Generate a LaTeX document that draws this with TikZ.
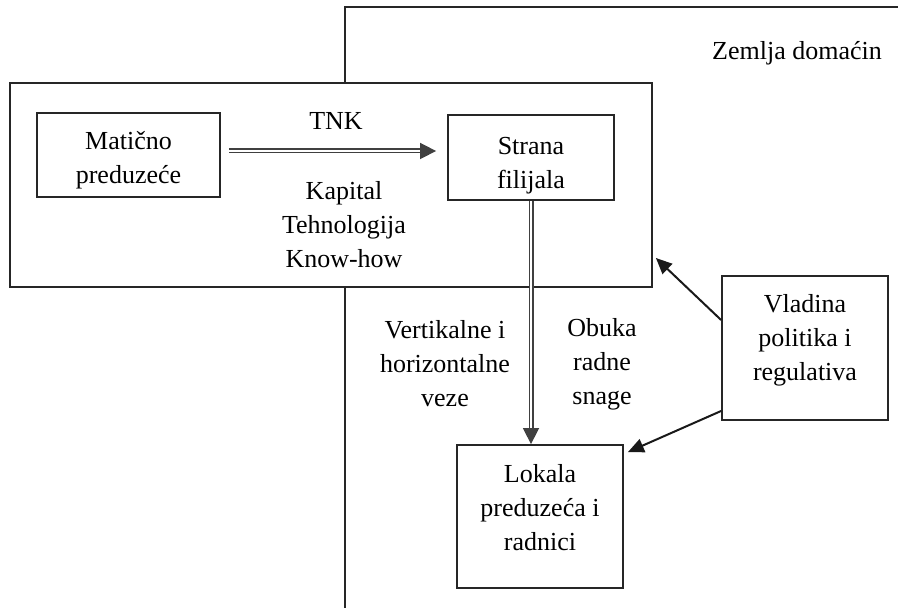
\documentclass[tikz,border=0pt]{standalone}
\usepackage{fontspec}
\setmainfont{Liberation Serif}
\usetikzlibrary{arrows.meta}
\tikzset{
  txt/.style={font=\fontsize{26}{34}\selectfont, align=center, inner sep=0pt},
  box/.style={draw=black!85, line width=1.8pt, rectangle, inner sep=0pt, fill=white},
  frame/.style={draw=black!85, line width=1.8pt},
  dblarrow/.style={draw=black!75, line width=1.6pt, double=white, double distance=1.8pt, -{Triangle[length=16pt,width=16pt]}},
  sarrow/.style={draw=black!90, line width=2pt, -{Triangle[length=16pt,width=14pt]}}
}
\begin{document}
\begin{tikzpicture}[x=1pt,y=1pt]
\useasboundingbox (0,0) rectangle (898,608);
% host country frame
\coordinate (hb) at (345,0);
\coordinate (htl) at (345,601);
\coordinate (htr) at (898,601);
\draw[frame] (hb) -- (htl) -- (htr);
\node[txt] (zemlja) at (797,555) {Zemlja domaćin};
% TNK box
\node[box, minimum width=642pt, minimum height=204pt] (tnkbox) at (331,423) {};
\node[box, minimum width=183pt, minimum height=84pt] (mat) at (128.5,453) {};
\node[txt] (mattxt) at (128.5,448) {Matično\\preduzeće};
\node[box, minimum width=166pt, minimum height=85pt] (str) at (531,450.5) {};
\node[txt] (strtxt) at (531,442.5) {Strana\\filijala};
\node[txt] (tnk) at (336,487) {TNK};
\node[txt] (kap) at (344,383) {Kapital\\Tehnologija\\Know-how};
% local firms
\node[box, minimum width=166pt, minimum height=143pt] (lok) at (540,91.5) {};
\node[txt] (loktxt) at (540,100) {Lokala\\preduzeća i\\radnici};
% government
\node[box, minimum width=166pt, minimum height=144pt] (vla) at (805,260) {};
\node[txt] (vlatxt) at (805,268) {Vladina\\politika i\\regulativa};
% side labels
\node[txt] (vert) at (445,244) {Vertikalne i\\horizontalne\\veze};
\node[txt] (obuka) at (602,244) {Obuka\\radne\\snage};
% connectors
\draw[dblarrow] ([xshift=8pt,yshift=4pt]mat.east) -- ([xshift=-11pt,yshift=6.5pt]str.west);
\draw[dblarrow] (str.south) -- (lok.north -| str.south);
\draw[sarrow] ([yshift=28pt]vla.west) -- ([xshift=3pt,yshift=-73pt]tnkbox.east);
\draw[sarrow] ([yshift=-63pt]vla.west) -- ([xshift=4pt,yshift=-8pt]lok.north east);
\end{tikzpicture}
\end{document}
